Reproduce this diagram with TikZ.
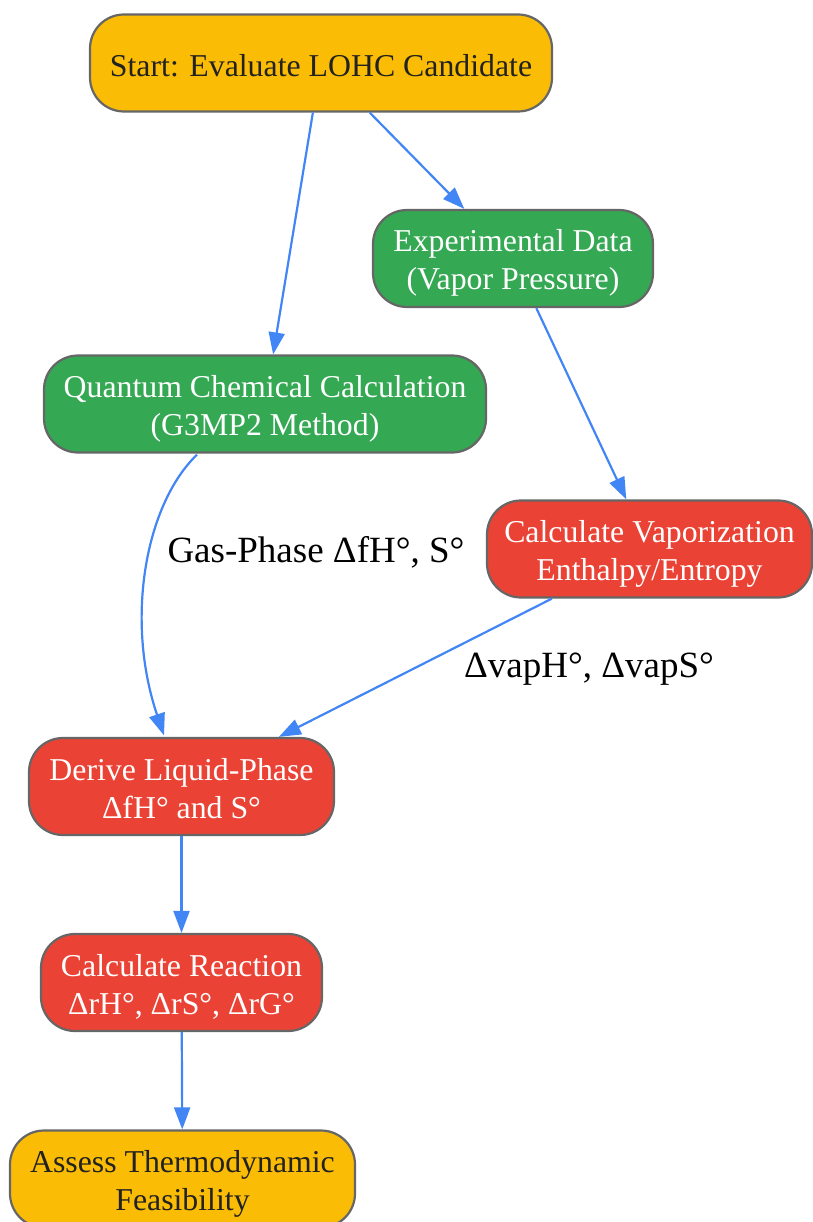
\documentclass[tikz,border=0pt]{standalone}
\usepackage{fontspec}
\setmainfont{Liberation Serif}
\usetikzlibrary{arrows.meta,calc}
\definecolor{gyellow}{HTML}{FBBC05}
\definecolor{ggreen}{HTML}{34A853}
\definecolor{gred}{HTML}{EA4335}
\definecolor{gblue}{HTML}{4285F4}
\definecolor{gborder}{HTML}{666666}
\definecolor{gtext}{HTML}{222222}
\tikzset{
  box/.style={draw=gborder, line width=2.2pt, rounded corners=34pt, align=center,
    inner sep=0pt, minimum height=97pt, font=\fontsize{31.8}{38}\selectfont},
  twoline/.style={text height=65pt, text depth=2pt},
  oneline/.style={text height=30pt, text depth=2pt},
  ybox/.style={box, fill=gyellow, text=gtext},
  gbox/.style={box, fill=ggreen, text=white},
  rbox/.style={box, fill=gred, text=white},
  conn/.style={draw=gblue, line width=2.2pt, -{Triangle[length=22pt,width=16pt]}},
  elabel/.style={font=\fontsize{37}{44}\selectfont, text=black, inner sep=0pt}
}
\begin{document}
\begin{tikzpicture}[x=1pt,y=-1pt]
\useasboundingbox (0,0) rectangle (812,1222);
\node[ybox, oneline, minimum width=462pt] (start) at (321,63) {Start: Evaluate LOHC Candidate};
\node[gbox, twoline, minimum width=280pt] (exp) at (513,258.5) {Experimental Data\\(Vapor Pressure)};
\node[gbox, twoline, minimum width=442pt] (qc) at (265,404) {Quantum Chemical Calculation\\(G3MP2 Method)};
\node[rbox, twoline, minimum width=325pt] (vap) at (649.5,549) {Calculate Vaporization\\Enthalpy/Entropy};
\node[rbox, twoline, minimum width=305pt] (liq) at (181.5,786.5) {Derive Liquid-Phase\\ΔfH° and S°};
\node[rbox, twoline, minimum width=281pt] (react) at (181.5,982.5) {Calculate Reaction\\ΔrH°, ΔrS°, ΔrG°};
\node[ybox, twoline, minimum width=345pt] (assess) at (182.5,1179) {Assess Thermodynamic\\Feasibility};

\coordinate (qcout) at ($(qc.south)+(-68,1)$);
\coordinate (liqin) at ($(liq.north)+(-17.5,-1.5)$);

\draw[conn] (start) -- (qc);
\draw[conn] (start) -- (exp);
\draw[conn] (exp) -- (vap);
\draw[conn] (qcout) .. controls (145,505) and (125,620) .. (liqin);
\draw[conn] (vap) -- (liq);
\draw[conn] (liq) -- (react);
\draw[conn] (react) -- (assess);

\node[elabel] (lab1) at (316,552) {Gas-Phase ΔfH°, S°};
\node[elabel] (lab2) at (589,669) {ΔvapH°, ΔvapS°};
\end{tikzpicture}
\end{document}
